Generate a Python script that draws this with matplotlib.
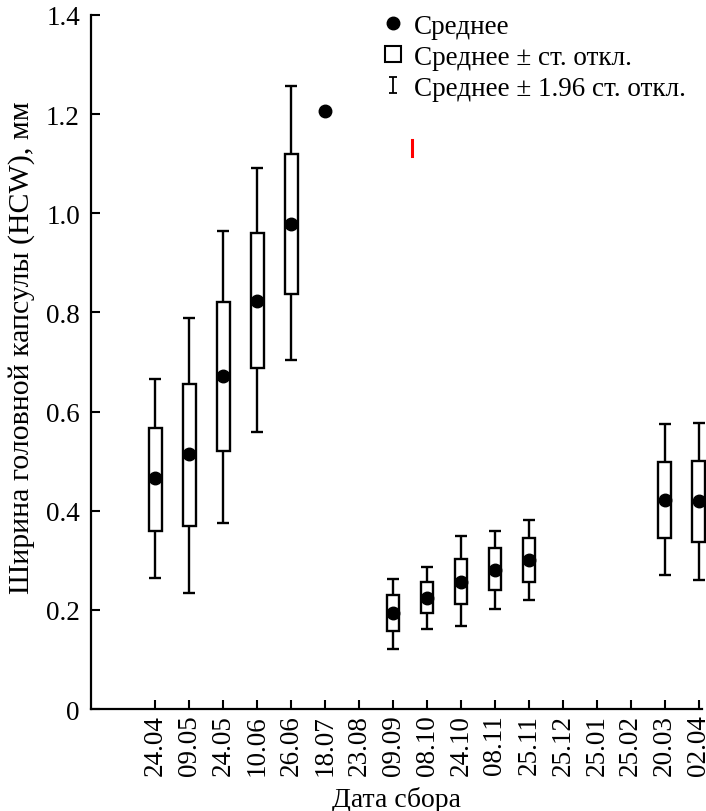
import numpy as np
from matplotlib import pyplot as plt
from matplotlib.lines import Line2D
from matplotlib.path import Path

plt.rcParams['font.family'] = ['Liberation Serif', 'DejaVu Serif']

# collection dates (one slot per date, some dates without data)
dates = ["24.04", "09.05", "24.05", "10.06", "26.06", "18.07", "23.08", "09.09",
         "08.10", "24.10", "08.11", "25.11", "25.12", "25.01", "25.02", "20.03", "02.04"]

# values (None = no sample)
means = [0.467, 0.514, 0.672, 0.824, 0.978, 1.206, None, 0.194,
         0.223, 0.257, 0.281, 0.301, None, None, None, 0.422, 0.420]
box_low = [0.360, 0.370, 0.520, 0.688, 0.838, None, None, 0.158,
           0.194, 0.212, 0.241, 0.257, None, None, None, 0.345, 0.336]
box_high = [0.566, 0.656, 0.821, 0.961, 1.119, None, None, 0.231,
            0.256, 0.303, 0.324, 0.344, None, None, None, 0.498, 0.500]
whisk_low = [0.264, 0.235, 0.376, 0.558, 0.704, None, None, 0.122,
             0.162, 0.168, 0.201, 0.219, None, None, None, 0.270, 0.260]
whisk_high = [0.666, 0.789, 0.965, 1.091, 1.256, None, None, 0.263,
              0.287, 0.349, 0.360, 0.382, None, None, None, 0.575, 0.577]

# stray red mark in the original figure
red_x = 7.56
red_span = [1.115, 1.147]

yticks = [0, 0.2, 0.4, 0.6, 0.8, 1.0, 1.2, 1.4]
ytick_labels = ["0", "0.2", "0.4", "0.6", "0.8", "1.0", "1.2", "1.4"]

fig = plt.figure(figsize=(7.06, 8.12), dpi=100)
ax = fig.add_axes([0.1289, 0.1256, 0.8654, 0.8547])

lw = 1.7
x = np.arange(len(dates))
for i in x:
    if whisk_low[i] is not None:
        ax.errorbar(i, (whisk_low[i] + whisk_high[i]) / 2,
                    yerr=(whisk_high[i] - whisk_low[i]) / 2,
                    fmt="none", ecolor="black", elinewidth=lw, capsize=4,
                    capthick=lw, clip_on=False, zorder=2)
    if box_low[i] is not None:
        ax.bar(i, box_high[i] - box_low[i], bottom=box_low[i], width=0.37,
               facecolor="white", edgecolor="black", linewidth=lw,
               clip_on=False, zorder=3)
    if means[i] is not None:
        ax.plot(i, means[i], "o", color="black", markersize=9,
                clip_on=False, zorder=4)

ax.plot([red_x, red_x], red_span, color="red", linewidth=2.2, zorder=5)

ax.set_xlim(-1.90, 16.10)
ax.set_ylim(0, 1.4)
ax.set_xticks(x)
ax.set_xticklabels(dates, rotation=90, fontsize=19.5)
ax.set_yticks(yticks)
ax.set_yticklabels(ytick_labels, fontsize=19.5)
ax.tick_params(direction="in", length=6.5, width=1.5)
ax.tick_params(axis="y", pad=8)
for s in ["top", "right"]:
    ax.spines[s].set_visible(False)
for s in ["left", "bottom"]:
    ax.spines[s].set_linewidth(1.6)

ax.set_xlabel("Дата сбора", fontsize=20, labelpad=8)
ax.set_ylabel("Ширина головной капсулы (HCW), мм", fontsize=21.5)
ax.yaxis.set_label_coords(-0.092, 0.522)

# legend marker for the 1.96 sd range
cap_path = Path([(-0.5, -1), (0.5, -1), (0, -1), (0, 1), (-0.5, 1), (0.5, 1)],
                [Path.MOVETO, Path.LINETO, Path.MOVETO, Path.LINETO, Path.MOVETO, Path.LINETO])
handles = [
    Line2D([], [], marker="o", color="black", linestyle="none", markersize=9),
    Line2D([], [], marker="s", markerfacecolor="white", markeredgecolor="black",
           markeredgewidth=1.5, linestyle="none", markersize=11),
    Line2D([], [], marker=cap_path, color="black", linestyle="none",
           markersize=11, markeredgewidth=1.3),
]
labels = ["Среднее", "Среднее ± ст. откл.", "Среднее ± 1.96 ст. откл."]
fig.legend(handles, labels, loc="upper left", bbox_to_anchor=(0.537, 0.982),
           frameon=False, fontsize=19.5, handlelength=1.0, handletextpad=0.3,
           labelspacing=0.22, borderpad=0, borderaxespad=0)

fig.savefig("out.png", dpi=100)
